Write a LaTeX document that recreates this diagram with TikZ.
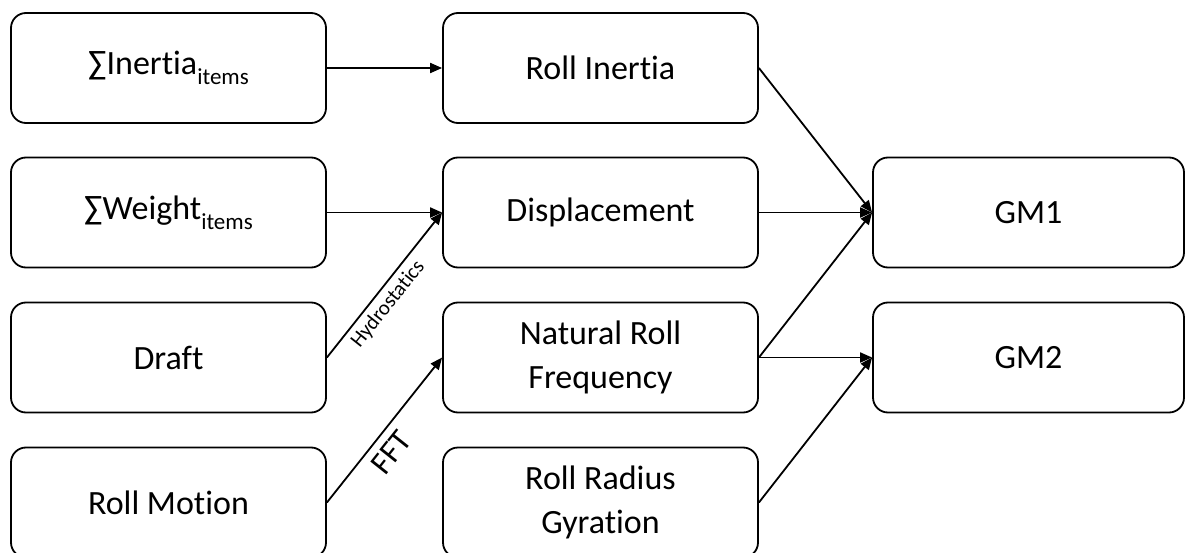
\documentclass[tikz,border=0pt]{standalone}
\usepackage{fontspec}
\setmainfont{Carlito}[Ligatures=NoCommon]
\usetikzlibrary{arrows.meta}
\newcommand{\itemsub}[1]{\raisebox{-0.3em}{\fontsize{23}{23}\selectfont #1}}
\begin{document}
\begin{tikzpicture}[x=1pt,y=-1pt,
  box/.style={draw, line width=1.8pt, rounded corners=15pt, minimum width=315pt,
    minimum height=110pt, inner sep=0pt, align=center,
    font=\fontsize{34}{44}\selectfont},
  conn/.style={line width=1.8pt, -{Triangle[length=12pt,width=10pt]}},
  lbl/.style={sloped, below, pos=0.43}]
\useasboundingbox (0,0) rectangle (1185,553);
% column 1
\node[box] (inertia) at (168.5,68) {∑Inertia\itemsub{items}};
\node[box] (weight)  at (168.5,212.5) {∑Weight\itemsub{items}};
\node[box] (draft)   at (168.5,357.5) {Draft};
\node[box] (motion)  at (168.5,502.5) {Roll Motion};
% column 2
\node[box] (rollin)  at (600.5,68) {Roll Inertia};
\node[box] (disp)    at (600.5,212.5) {Displacement};
\node[box] (nrf)     at (600.5,357.5) {Natural Roll\\Frequency};
\node[box] (rrg)     at (600.5,502.5) {Roll Radius\\Gyration};
% column 3
\node[box, minimum width=311pt] (gm1) at (1028.5,212.5) {GM1};
\node[box, minimum width=311pt] (gm2) at (1028.5,357.5) {GM2};
% connectors
\draw[conn] (inertia.east) -- (rollin.west);
\draw[conn] (weight.east) -- (disp.west);
\draw[conn] (draft.east) -- node[lbl, inner sep=5pt, font=\fontsize{21}{21}\selectfont] {Hydrostatics} (disp.west);
\draw[conn] (motion.east) -- node[lbl, inner sep=8pt, font=\fontsize{32}{32}\selectfont] {FFT} (nrf.west);
\draw[conn] (rollin.east) -- (gm1.west);
\draw[conn] (disp.east) -- (gm1.west);
\draw[conn] (nrf.east) -- (gm1.west);
\draw[conn] (nrf.east) -- (gm2.west);
\draw[conn] (rrg.east) -- (gm2.west);
\end{tikzpicture}
\end{document}
